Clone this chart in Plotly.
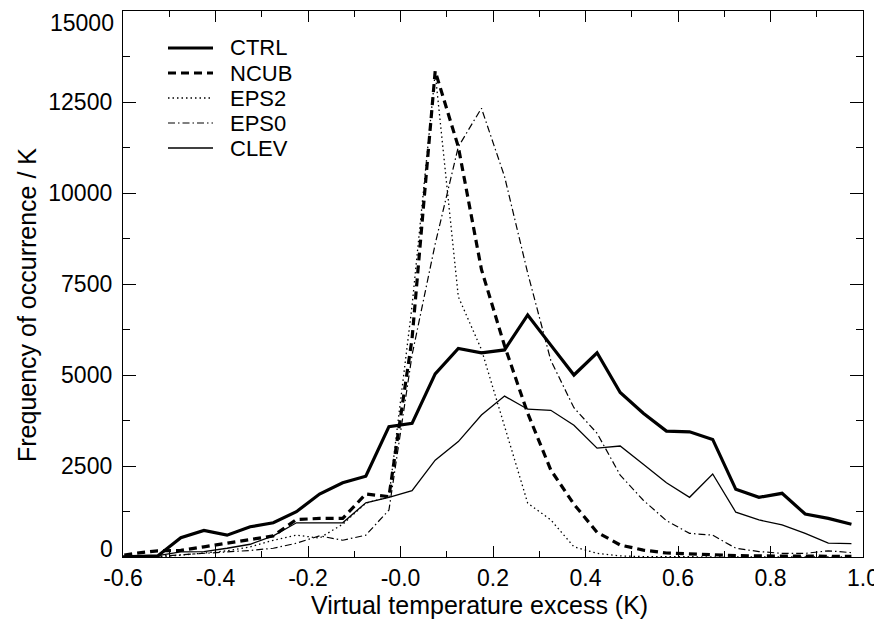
import plotly.graph_objects as go

# Bin centres of the virtual temperature excess (K)
X_BINS = [-0.625, -0.575, -0.525, -0.475, -0.425, -0.375, -0.325, -0.275, -0.225,
          -0.175, -0.125, -0.075, -0.025, 0.025, 0.075, 0.125, 0.175, 0.225,
          0.275, 0.325, 0.375, 0.425, 0.475, 0.525, 0.575, 0.625, 0.675, 0.725,
          0.775, 0.825, 0.875, 0.925, 0.975]

CTRL = [0, 20, 30, 530, 730, 600, 830, 940, 1245, 1730, 2040, 2220, 3580, 3670, 5030,
        5730, 5610, 5690, 6650, 5820, 5000, 5610, 4520, 3950, 3460, 3440, 3230, 1860,
        1640, 1750, 1180, 1060, 900]
NCUB = [0, 100, 170, 180, 280, 380, 490, 580, 1030, 1060, 1060, 1730, 1660, 6000, 13350,
        11270, 7900, 5800, 3950, 2390, 1450, 680, 330, 190, 110, 80, 60, 40, 30, 20, 30,
        20, 20]
EPS2 = [0, 0, 10, 50, 100, 170, 280, 460, 600, 520, 900, 1480, 1650, 6900, 13300, 7150,
        5700, 3580, 1480, 1020, 280, 100, 30, 10, 5, 0, 0, 0, 0, 0, 0, 0, 0]
EPS0 = [0, 0, 20, 60, 100, 130, 180, 240, 380, 580, 460, 600, 1290, 5550, 8600, 11270,
        12330, 10450, 7800, 5400, 4100, 3400, 2250, 1560, 1000, 650, 600, 240, 150, 100,
        100, 170, 120]
CLEV = [0, 10, 40, 140, 150, 240, 350, 580, 940, 940, 940, 1490, 1640, 1820, 2660, 3170,
        3900, 4420, 4060, 4030, 3620, 2990, 3050, 2550, 2040, 1640, 2280, 1230, 1020, 880,
        650, 380, 370]

SERIES_NAMES = ["CTRL", "NCUB", "EPS2", "EPS0", "CLEV"]

X_TICK_VALS = [-0.6, -0.4, -0.2, 0.0, 0.2, 0.4, 0.6, 0.8, 1.0]
X_TICK_TEXT = ["-0.6", "-0.4", "-0.2", "-0.0", "0.2", "0.4", "0.6", "0.8", "1.0"]
Y_TICK_VALS = [0, 2500, 5000, 7500, 10000, 12500, 15000]
Y_TICK_TEXT = ["0", "2500", "5000", "7500", "10000", "12500", "15000"]
X_TITLE = "Virtual temperature excess (K)"
Y_TITLE = "Frequency of occurrence / K"

FONT = "Liberation Sans, Arial, Helvetica, sans-serif"
# The page body adds an 8 px offset, so the figure is sized to fill the rest of the window
W, H = 874, 612
ML, MR, MT, MB = 115, 19, 3, 63
PW, PH = W - ML - MR, H - MT - MB

styles = [
    dict(color="black", width=3.2, dash="solid"),
    dict(color="black", width=3.2, dash="8px,5px"),
    dict(color="black", width=1.3, dash="1.5px,3px"),
    dict(color="black", width=1.2, dash="7px,3px,1.5px,3px"),
    dict(color="black", width=1.3, dash="solid"),
]
data = [CTRL, NCUB, EPS2, EPS0, CLEV]

fig = go.Figure()
for name, vals, line in zip(SERIES_NAMES, data, styles):
    fig.add_trace(go.Scatter(x=X_BINS, y=vals, mode="lines", name=name, line=line,
                             showlegend=False))

def px_x(p):
    return (p - ML) / PW

def px_y(p):
    return (H - MB - p) / PH

shapes = []
annotations = []
# Key in the upper-left corner (line samples + labels)
for i, (name, line) in enumerate(zip(SERIES_NAMES, styles)):
    yp = px_y(40 + 25 * i)
    shapes.append(dict(type="line", xref="paper", yref="paper",
                       x0=px_x(160), x1=px_x(205), y0=yp, y1=yp, line=line))
    annotations.append(dict(xref="paper", yref="paper", x=px_x(220), y=yp,
                            xanchor="left", yanchor="middle", showarrow=False,
                            text=name, font=dict(family=FONT, size=22, color="black")))

# End labels of the y axis are nudged inside the frame, as in the original
ytext_axis = [""] + Y_TICK_TEXT[1:-1] + [""]
annotations.append(dict(xref="paper", yref="y", x=0, y=Y_TICK_VALS[0], xanchor="right",
                        yanchor="middle", xshift=-8, yshift=8, showarrow=False,
                        text=Y_TICK_TEXT[0], font=dict(family=FONT, size=23, color="black")))
annotations.append(dict(xref="paper", yref="y", x=0, y=Y_TICK_VALS[-1], xanchor="right",
                        yanchor="top", xshift=-8, yshift=2, showarrow=False, borderpad=0,
                        text=Y_TICK_TEXT[-1], font=dict(family=FONT, size=23, color="black")))

# Axis titles
annotations.append(dict(xref="paper", yref="paper", x=px_x(471), y=px_y(597),
                        xanchor="center", yanchor="middle", showarrow=False,
                        text=X_TITLE, font=dict(family=FONT, size=25, color="black")))
annotations.append(dict(xref="paper", yref="paper", x=px_x(19), y=px_y(297),
                        xanchor="center", yanchor="middle", showarrow=False, textangle=-90,
                        text=Y_TITLE, font=dict(family=FONT, size=25, color="black")))

fig.update_layout(
    width=W, height=H,
    margin=dict(l=ML, r=MR, t=MT, b=MB),
    paper_bgcolor="white", plot_bgcolor="white",
    font=dict(family=FONT, size=23, color="black"),
    showlegend=False,
    shapes=shapes,
    annotations=annotations,
)

fig.update_xaxes(
    range=[-0.6, 1.0], tickmode="array", tickvals=X_TICK_VALS, ticktext=X_TICK_TEXT,
    ticks="inside", ticklen=11, tickwidth=1, tickcolor="black",
    minor=dict(dtick=0.1, tick0=-0.6, ticks="inside", ticklen=6, tickwidth=1, tickcolor="black"),
    showline=True, linecolor="black", linewidth=1.3, mirror="ticks",
    showgrid=False, zeroline=False, automargin=False, ticklabeloverflow="allow",
    tickfont=dict(family=FONT, size=23, color="black"),
)
fig.update_yaxes(
    range=[0, 15000], tickmode="array", tickvals=Y_TICK_VALS, ticktext=ytext_axis,
    ticks="inside", ticklen=13, tickwidth=1, tickcolor="black",
    minor=dict(dtick=1250, tick0=0, ticks="inside", ticklen=7, tickwidth=1, tickcolor="black"),
    showline=True, linecolor="black", linewidth=1.3, mirror="ticks",
    showgrid=False, zeroline=False, automargin=False, ticklabeloverflow="allow",
    ticklabelstandoff=5,
    tickfont=dict(family=FONT, size=23, color="black"),
)

fig.write_html("out.html")
